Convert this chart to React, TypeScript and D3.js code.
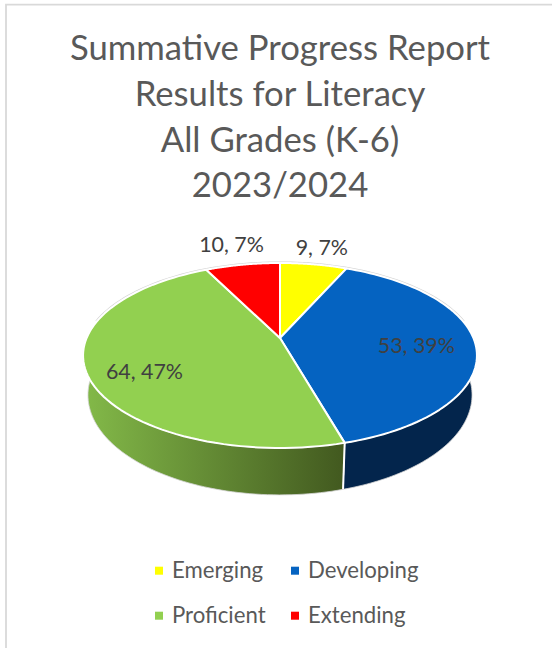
import React from "react";
import * as d3 from "d3";

const titleLines = ["Summative Progress Report", "Results for Literacy", "All Grades (K-6)", "2023/2024"];
const categories = ["Emerging", "Developing", "Proficient", "Extending"];
const values = [9, 53, 64, 10];
const colors = ["#FFFF00", "#0563C1", "#92D050", "#FF0000"];

const W = 552, H = 648;
const cx = 280, cy = 338, R = 193.4, SY = 89.2, K = -0.189;
const rimMidY = 355.5;
const labelRadius = [1.3, 0.7, 0.75, 1.3];
const labelNudge = [[0, 1], [0, 4], [7, 9], [-2, -2]];
const font = "Lato, Carlito, sans-serif";

type P = [number, number];
const project = (a: number, r = 1): P => {
  const u = Math.sin(a) * r, v = -Math.cos(a) * r, w = 1 + K * v;
  return [cx + (R * u) / w, cy + (SY * v) / w];
};
const lower = ([x, y]: P): P => [cx + (x - cx) * 0.975, rimMidY + (y - rimMidY) * 1.08 + 39.5];
const line = d3.line<P>();
const arcPts = (a0: number, a1: number, n = 80): P[] =>
  d3.range(n + 1).map((i) => project(a0 + ((a1 - a0) * i) / n));
const wall = (a0: number, a1: number) => {
  const top = arcPts(a0, a1);
  return line([...top, ...top.slice().reverse().map(lower)]) + "Z";
};

export default function App() {
  const total = d3.sum(values);
  const arcs = d3.pie<number>().sort(null)(values);
  const pct = d3.format(".0%");
  const rightExtreme = Math.PI / 2 - 0.19;
  const leftExtreme = (3 * Math.PI) / 2 + 0.19;
  const split = arcs[1].endAngle;
  const splitTop = project(split);
  return (
    <svg width={W} height={H} style={{ position: "absolute", left: 0, top: 0 }}>
      <defs>
        <linearGradient id="greenWall" gradientUnits="userSpaceOnUse" x1={88} x2={344} y1={0} y2={0}>
          <stop offset="0" stopColor="#82B848" />
          <stop offset="1" stopColor="#42591F" />
        </linearGradient>
      </defs>
      <rect width={W} height={H} fill="#fff" />
      <path d={`M6,${H}V4.7H${W}`} fill="none" stroke="#D9D9D9" strokeWidth={1.8} />
      <g fontFamily={font} fill="#595959" fontSize={34.7} textAnchor="middle">
        {titleLines.map((t, i) => (
          <text key={t} x={280} y={60 + i * 45.8}>{t}</text>
        ))}
      </g>
      <path d={line(arcPts(leftExtreme - 2 * Math.PI, rightExtreme)) ?? ""} fill="none" stroke="#D4D4D4" strokeWidth={3.2} />
      <path d={wall(rightExtreme, split)} fill="#03254C" stroke="#D4D4D4" strokeWidth={0.8} />
      <path d={wall(split, leftExtreme)} fill="url(#greenWall)" stroke="#D4D4D4" strokeWidth={0.8} />
      <path d={line([splitTop, lower(splitTop)]) ?? ""} stroke="#fff" strokeWidth={2} />
      {arcs.map((a, i) => (
        <path
          key={categories[i]}
          d={(line([[cx, cy], ...arcPts(a.startAngle, a.endAngle)]) ?? "") + "Z"}
          fill={colors[i]}
          stroke="#fff"
          strokeWidth={2}
          strokeLinejoin="round"
        />
      ))}
      <g fontFamily={font} fill="#404040" fontSize={21.4} textAnchor="middle">
        {arcs.map((a, i) => {
          const [x, y] = project((a.startAngle + a.endAngle) / 2, labelRadius[i]);
          return (
            <text key={i} x={x + labelNudge[i][0]} y={y + labelNudge[i][1] + 7}>
              {`${values[i]}, ${pct(values[i] / total)}`}
            </text>
          );
        })}
      </g>
      <g fontFamily={font} fill="#595959" fontSize={22.2}>
        {categories.map((c, i) => {
          const lx = i % 2 === 0 ? 155 : 291;
          const ly = i < 2 ? 578 : 623;
          return (
            <g key={c}>
              <rect x={lx} y={ly - 11.3} width={8} height={8} fill={colors[i]} />
              <text x={lx + 17} y={ly}>{c}</text>
            </g>
          );
        })}
      </g>
    </svg>
  );
}
